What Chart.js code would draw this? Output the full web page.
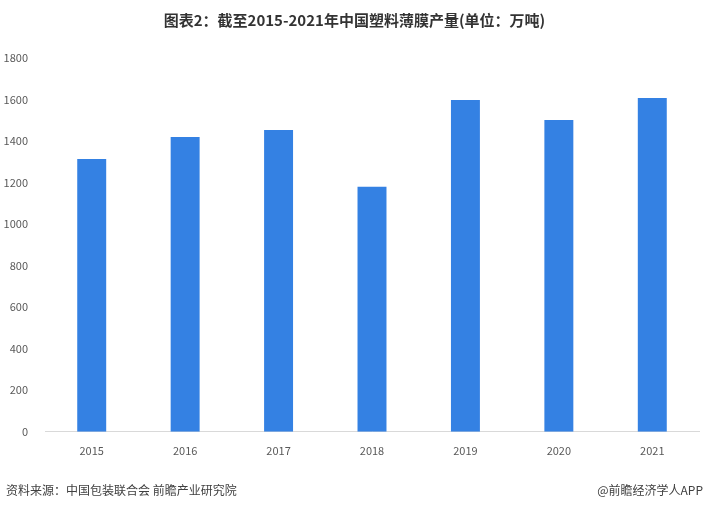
<!DOCTYPE html>
<html>
<head>
<meta charset="utf-8">
<script src="https://cdn.jsdelivr.net/npm/chart.js@4"></script>
<style>
  html, body { margin: 0; padding: 0; background: #fff; }
  #wrap { position: relative; width: 709px; height: 511px; }
  #title { position: absolute; top: 9px; left: 0; width: 709px; text-align: center;
           font: bold 15px "Noto Sans CJK SC", sans-serif; color: #333; }
  .foot { position: absolute; top: 481px; font: 12px "Noto Sans CJK SC", sans-serif; color: #404040; }
  #src { left: 6px; }
  #brand { right: 6px; }
</style>
</head>
<body>
<div id="wrap">
  <canvas id="chart" width="709" height="511"></canvas>
  <div id="title">图表2：截至2015-2021年中国塑料薄膜产量(单位：万吨)</div>
  <div class="foot" id="src">资料来源：中国包装联合会 前瞻产业研究院</div>
  <div class="foot" id="brand">@前瞻经济学人APP</div>
</div>
<script>
const years = ["2015", "2016", "2017", "2018", "2019", "2020", "2021"];
const output = [1314, 1420, 1453, 1180, 1598, 1501, 1607];
const yTicks = [0, 200, 400, 600, 800, 1000, 1200, 1400, 1600, 1800];

const tickFont = { family: "'Noto Sans CJK SC', sans-serif", size: 11 };

new Chart(document.getElementById("chart"), {
    type: "bar",
    data: {
        labels: years,
        datasets: [{
            data: output,
            backgroundColor: "#3481e3",
            barPercentage: 0.31,
            categoryPercentage: 1
        }]
    },
    options: {
        responsive: false,
        animation: false,
        layout: { padding: { top: 58, right: 10, bottom: 50, left: 0 } },
        plugins: { legend: { display: false }, tooltip: { enabled: false } },
        scales: {
            x: {
                grid: { display: false },
                border: { display: true, color: "#d9d9d9" },
                ticks: { color: "#595959", font: tickFont, padding: 4 }
            },
            y: {
                min: 0,
                max: 1800,
                afterBuildTicks: (scale) => { scale.ticks = yTicks.map(v => ({ value: v })); },
                afterFit: (scale) => { scale.width = 45; },
                grid: { display: false },
                border: { display: false },
                ticks: { color: "#595959", font: tickFont, padding: 9, callback: (v) => String(v) }
            }
        }
    }
});
</script>
</body>
</html>
